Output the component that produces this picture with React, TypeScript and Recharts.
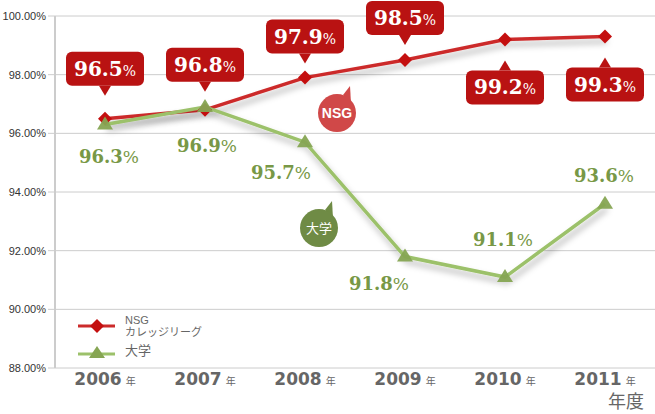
import React from "react";
import {
  LineChart,
  Line,
  XAxis,
  YAxis,
  CartesianGrid,
  LabelList,
  ReferenceDot,
} from "recharts";

const years = ["2006", "2007", "2008", "2009", "2010", "2011"];
const nsgRate = [96.5, 96.8, 97.9, 98.5, 99.2, 99.3];
const univRate = [96.3, 96.9, 95.7, 91.8, 91.1, 93.6];
const yTicks = [88, 90, 92, 94, 96, 98, 100];

const data = years.map((year, i) => ({ year, nsg: nsgRate[i], univ: univRate[i] }));

// callout placement (layout only): negative gap = box above the point
const nsgGap = [-33, -28, -24, -25, 31, 31];
const univOffset: [number, number][] = [
  [4, 31],
  [2, 38],
  [-24, 30],
  [-26, 26],
  [-2, -38],
  [-1, -29],
];

const RED_BOX = "#b91212";
const RED_LINE = "#cc2b2b";
const GREEN_LINE = "#9cc16a";
const GREEN_DARK = "#789846";
const SERIF = "'DejaVu Serif', serif";

const Diamond = (props: any) => {
  const { cx, cy } = props;
  const s = 7;
  return (
    <polygon
      points={`${cx},${cy - s} ${cx + s},${cy} ${cx},${cy + s} ${cx - s},${cy}`}
      fill="#c40f0f"
    />
  );
};

const Triangle = (props: any) => {
  const { cx, cy } = props;
  return (
    <polygon
      points={`${cx},${cy - 8} ${cx + 8},${cy + 5} ${cx - 8},${cy + 5}`}
      fill="#86a553"
      opacity={0.95}
    />
  );
};

const NsgCallout = (props: any) => {
  const { x, y, value, index } = props;
  const gap = nsgGap[index];
  const below = gap > 0;
  const w = 78;
  const h = 34;
  const boxY = below ? y + gap : y + gap - h;
  const edge = below ? boxY : boxY + h;
  const tipY = below ? edge - 10 : edge + 10;
  return (
    <g>
      <rect x={x - w / 2} y={boxY} width={w} height={h} rx={6} fill={RED_BOX} />
      <polygon points={`${x - 6},${edge} ${x + 6},${edge} ${x},${tipY}`} fill={RED_BOX} />
      <text
        x={x}
        y={boxY + h / 2 + 7}
        textAnchor="middle"
        fill="#fff"
        fontFamily={SERIF}
        fontWeight="bold"
      >
        <tspan fontSize={20}>{value.toFixed(1)}</tspan>
        <tspan fontSize={14} fontWeight="normal">%</tspan>
      </text>
    </g>
  );
};

const UnivLabel = (props: any) => {
  const { x, y, value, index } = props;
  const [dx, dy] = univOffset[index];
  return (
    <text
      x={x + dx}
      y={y + dy + 7}
      textAnchor="middle"
      fill={GREEN_DARK}
      fontFamily={SERIF}
      fontWeight="bold"
    >
      <tspan fontSize={18}>{value.toFixed(1)}</tspan>
      <tspan fontSize={17} fontWeight="normal">%</tspan>
    </text>
  );
};

const YearTick = (props: any) => {
  const { x, y, payload } = props;
  return (
    <text x={x} y={y + 9} textAnchor="middle" fill="#666">
      <tspan fontFamily="'DejaVu Sans', sans-serif" fontWeight="bold" fontSize={17}>
        {payload.value}
      </tspan>
      <tspan fontFamily="'Noto Sans CJK JP', sans-serif" fontSize={10} dx={4}>
        年
      </tspan>
    </text>
  );
};

const Bubble = (props: any) => {
  const { cx, cy, fill, text, dx } = props;
  const x = cx + dx;
  return (
    <g>
      <path d={`M ${x + 6} ${cy - 18} L ${x + 13} ${cy - 27} L ${x + 14} ${cy - 10} Z`} fill={fill} />
      <circle cx={x} cy={cy} r={19} fill={fill} />
      <text
        x={x}
        y={cy + 5}
        textAnchor="middle"
        fill="#fff"
        fontSize={text === "NSG" ? 14 : 13}
        fontWeight={text === "NSG" ? "bold" : "normal"}
        fontFamily="'Liberation Sans', 'Noto Sans CJK JP', sans-serif"
      >
        {text}
      </text>
    </g>
  );
};

const App = () => {
  return (
    <div style={{ position: "relative", width: 655, height: 414, background: "#fff" }}>
      <style>{`body{margin:0}`}</style>
      <LineChart
        width={655}
        height={414}
        data={data}
        margin={{ top: 16, right: 0, left: 0, bottom: 16 }}
      >
        <defs>
          <filter id="shadow" x="-10%" y="-20%" width="120%" height="160%">
            <feDropShadow dx="2" dy="5" stdDeviation="3" floodColor="#000" floodOpacity="0.3" />
          </filter>
        </defs>
        <CartesianGrid vertical={false} stroke="#cccccc" />
        <XAxis
          dataKey="year"
          axisLine={false}
          tickLine={false}
          tick={<YearTick />}
          interval={0}
          height={30}
          padding={{ left: 50, right: 50 }}
        />
        <YAxis
          width={55}
          domain={[88, 100]}
          ticks={yTicks}
          tickFormatter={(v: number) => `${v.toFixed(2)}%`}
          tick={{ fontSize: 11, fill: "#333", fontFamily: "'Liberation Sans', Arial, sans-serif" }}
          axisLine={{ stroke: "#cccccc", strokeWidth: 2 }}
          tickLine={{ stroke: "#cccccc" }}
          tickSize={7}
          tickMargin={2}
          interval={0}
        />
        <Line
          dataKey="nsg"
          stroke={RED_LINE}
          strokeWidth={3.5}
          dot={<Diamond />}
          activeDot={false}
          filter="url(#shadow)"
          isAnimationActive={false}
        >
          <LabelList dataKey="nsg" content={<NsgCallout />} />
        </Line>
        <Line
          dataKey="univ"
          stroke={GREEN_LINE}
          strokeWidth={3.5}
          dot={<Triangle />}
          activeDot={false}
          filter="url(#shadow)"
          isAnimationActive={false}
        >
          <LabelList dataKey="univ" content={<UnivLabel />} />
        </Line>
        <ReferenceDot
          x="2008"
          y={96.69}
          r={19}
          shape={(p: any) => <Bubble {...p} dx={32} fill="#d04848" text="NSG" />}
        />
        <ReferenceDot
          x="2008"
          y={92.77}
          r={19}
          shape={(p: any) => <Bubble {...p} dx={14} fill="#6f8b45" text="大学" />}
        />
      </LineChart>
      <div
        style={{
          position: "absolute",
          left: 78,
          top: 314,
          fontFamily: "'Liberation Sans', 'Noto Sans CJK JP', sans-serif",
          fontSize: 11,
          color: "#666",
          lineHeight: "12px",
        }}
      >
        <div style={{ display: "flex", alignItems: "center" }}>
          <svg width={38} height={16}>
            <line x1={0} y1={8} x2={37} y2={8} stroke={RED_LINE} strokeWidth={3} />
            <polygon points="19,1 26,8 19,15 12,8" fill="#c40f0f" />
          </svg>
          <div style={{ marginLeft: 9 }}>
            NSG
            <br />
            カレッジリーグ
          </div>
        </div>
        <div style={{ display: "flex", alignItems: "center", marginTop: 5 }}>
          <svg width={38} height={16}>
            <line x1={0} y1={11} x2={37} y2={11} stroke={GREEN_LINE} strokeWidth={3} />
            <polygon points="19,3 27,15 11,15" fill="#86a553" />
          </svg>
          <div style={{ marginLeft: 9, fontSize: 13 }}>大学</div>
        </div>
      </div>
      <div
        style={{
          position: "absolute",
          left: 608,
          top: 391,
          fontFamily: "'Noto Sans CJK JP', sans-serif",
          fontSize: 18,
          color: "#666",
          lineHeight: "18px",
        }}
      >
        年度
      </div>
    </div>
  );
};

export default App;
